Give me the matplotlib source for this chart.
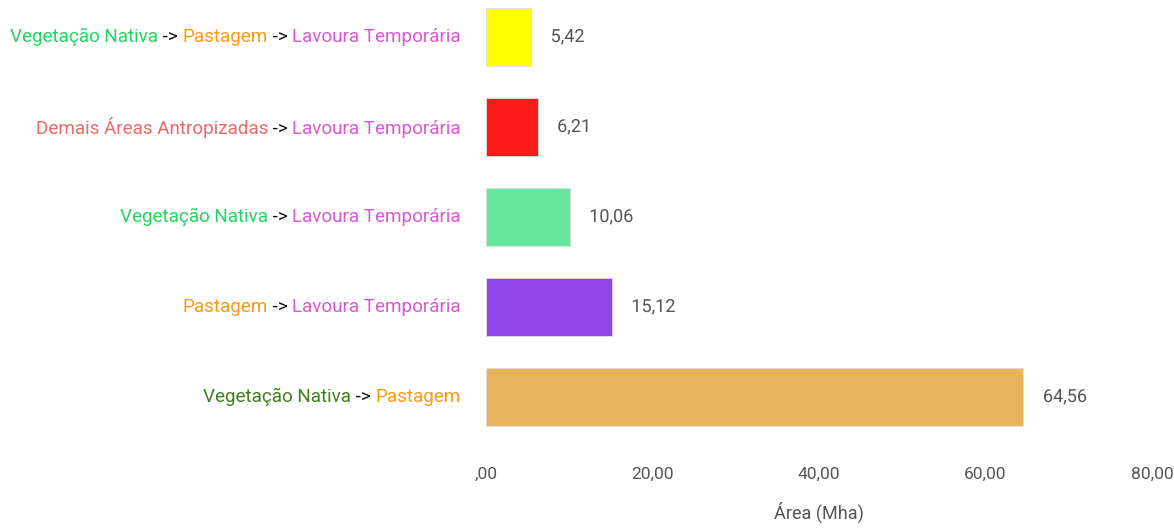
import matplotlib
matplotlib.use('Agg')
import matplotlib.pyplot as plt
import matplotlib.patheffects as pe
from matplotlib.offsetbox import TextArea, HPacker, AnnotationBbox

plt.rcParams['font.family'] = ['Roboto', 'DejaVu Sans']

# top to bottom
values = [5.42, 6.21, 10.06, 15.12, 64.56]
value_labels = ['5,42', '6,21', '10,06', '15,12', '64,56']
bar_colors = ['#FFFF00', '#FF1A1A', '#66E89F', '#9146EA', '#E8B55C']

GREEN = '#1ED760'
DKGREEN = '#3F7F1F'
ORANGE = '#FF9A0F'
PINK = '#DB57D3'
SALMON = '#E86B6B'
BLACK = '#111111'

label_parts = [
    [('Vegetação Nativa', GREEN), (' -> ', BLACK), ('Pastagem', ORANGE), (' -> ', BLACK), ('Lavoura Temporária', PINK)],
    [('Demais Áreas Antropizadas', SALMON), (' -> ', BLACK), ('Lavoura Temporária', PINK)],
    [('Vegetação Nativa', GREEN), (' -> ', BLACK), ('Lavoura Temporária', PINK)],
    [('Pastagem', ORANGE), (' -> ', BLACK), ('Lavoura Temporária', PINK)],
    [('Vegetação Nativa', DKGREEN), (' -> ', BLACK), ('Pastagem', ORANGE)],
]

xticks = [0, 20, 40, 60, 80]
xtick_labels = [',00', '20,00', '40,00', '60,00', '80,00']

fig = plt.figure(figsize=(11.74, 5.28), dpi=100)
ax = fig.add_axes([486 / 1174, 86 / 528, 666 / 1174, 450 / 528])

ypos = list(range(len(values)))
ax.barh(ypos, values, height=0.644, color=bar_colors, edgecolor='#dddddd', linewidth=0.6)
ax.set_ylim(len(values) - 0.5, -0.5)
ax.set_xlim(0, 80)

for y, v, lab in zip(ypos, values, value_labels):
    ax.annotate(lab, (v, y), xytext=(14, 0), textcoords='offset points',
                va='center', ha='left', fontsize=13, color='#555555',
                path_effects=[pe.withStroke(linewidth=3, foreground='white')])

for y, parts in zip(ypos, label_parts):
    boxes = [TextArea(t.replace(' ', '\u00a0') if t.strip() != t else t,
                      textprops=dict(color=c, fontsize=13.6)) for t, c in parts]
    pack = HPacker(children=boxes, align='baseline', pad=0, sep=0)
    ab = AnnotationBbox(pack, (0, y), xycoords=('axes fraction', 'data'),
                        xybox=(-18, 0), boxcoords='offset points',
                        box_alignment=(1, 0.5), frameon=False, annotation_clip=False)
    ax.add_artist(ab)

ax.set_yticks([])
ax.set_xticks(xticks)
ax.set_xticklabels(xtick_labels, fontsize=12.5, color='#555555')
ax.tick_params(axis='x', length=0, pad=18)
ax.set_xlabel('Área (Mha)', fontsize=13, color='#555555', labelpad=14)
for s in ax.spines.values():
    s.set_visible(False)

fig.savefig('out.png', dpi=100)
